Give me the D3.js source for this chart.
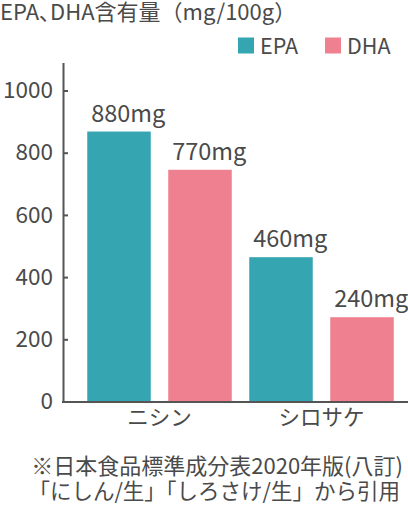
<!DOCTYPE html>
<html><head><meta charset="utf-8">
<script src="https://cdn.jsdelivr.net/npm/d3@7"></script>
<style>
html,body{margin:0;padding:0;background:#fff;}
svg{display:block;}
text{font-family:"Noto Sans CJK JP","Noto Sans",sans-serif;fill:#4a4a4a;}
.palt{font-feature-settings:"palt";}
</style></head>
<body>
<script>
const categories = ["ニシン", "シロサケ"];
const seriesNames = ["EPA", "DHA"];
const epaValues = [868, 464];
const dhaValues = [745, 271];
const epaLabels = ["880mg", "460mg"];
const dhaLabels = ["770mg", "240mg"];
const yTicks = [0, 200, 400, 600, 800, 1000];
const colors = ["#36a5b2", "#ef8090"];
const titleMain = "EPA、DHA含有量";
const titleUnit = "（mg/100g）";
const noteLines = ["※日本食品標準成分表2020年版(八訂)", "「にしん/生」「しろさけ/生」から引用"];

const W = 408, H = 510;
const svg = d3.select("body").append("svg").attr("width", W).attr("height", H);

const data = categories.map((c, i) => ({
  cat: c,
  vals: [
    {s: "EPA", v: epaValues[i], label: epaLabels[i]},
    {s: "DHA", v: dhaValues[i], label: dhaLabels[i]}
  ]
}));

const y = d3.scaleLinear().domain([0, 1090]).range([401.5, 62.5]);
const x0 = d3.scaleBand().domain(categories).range([78.5, 402.5]).paddingInner(0).paddingOuter(0);
const x1 = d3.scaleBand().domain(seriesNames).range([0, x0.bandwidth()]).paddingInner(0.216).paddingOuter(0.108);
const color = d3.scaleOrdinal().domain(seriesNames).range(colors);

// title
const t = svg.append("text").attr("x", 0).attr("y", 20).attr("font-size", 22);
t.append("tspan").attr("class", "palt").text(titleMain);
t.append("tspan").text(titleUnit);

// legend
const leg = svg.append("g");
const legX = [238, 325];
seriesNames.forEach((s, i) => {
  leg.append("rect").attr("x", legX[i]).attr("y", 37.5).attr("width", 16).attr("height", 16).attr("fill", color(s));
  leg.append("text").attr("x", legX[i] + 22).attr("y", 54).attr("font-size", 21.5).text(s);
});

// bars
const g = svg.append("g");
const groups = g.selectAll("g.grp").data(data).join("g").attr("class", "grp")
  .attr("transform", d => `translate(${x0(d.cat)},0)`);
groups.selectAll("rect").data(d => d.vals).join("rect")
  .attr("x", d => x1(d.s))
  .attr("y", d => y(d.v))
  .attr("width", x1.bandwidth())
  .attr("height", d => y(0) - y(d.v))
  .attr("fill", d => color(d.s));
groups.selectAll("text.val").data(d => d.vals).join("text").attr("class", "val")
  .attr("x", d => x1(d.s) + 4)
  .attr("y", d => y(d.v) - 10)
  .attr("font-size", 23.5)
  .text(d => d.label);

// y axis
const yAxis = d3.axisLeft(y).tickValues(yTicks).tickFormat(d3.format("d"))
  .tickSizeInner(-5).tickSizeOuter(0).tickPadding(10);
const ya = svg.append("g").attr("transform", "translate(63,0)").call(yAxis);
ya.select(".domain").attr("stroke", "#555").attr("stroke-width", 2);
ya.selectAll(".tick line").attr("stroke", "#555").attr("stroke-width", 2);
ya.selectAll(".tick text").attr("font-size", 22.5).attr("font-family", "'Noto Sans CJK JP',sans-serif").attr("fill", "#4a4a4a");

// x axis
const xAxis = d3.axisBottom(x0).tickSize(0).tickPadding(0);
const xa = svg.append("g").attr("transform", `translate(0,${y(0)})`).call(xAxis);
xa.select(".domain").attr("d", `M62,0.5H408`).attr("stroke", "#555").attr("stroke-width", 2);
xa.selectAll(".tick text").attr("dy", null).attr("y", 23.5)
  .attr("font-size", 21.5).attr("font-family", "'Noto Sans CJK JP',sans-serif").attr("fill", "#4a4a4a");

// footnote
svg.append("g").selectAll("text").data(noteLines).join("text")
  .attr("x", (d, i) => i === 0 ? 403 : 400).attr("y", (d, i) => 474 + i * 25)
  .attr("text-anchor", "end").attr("font-size", (d, i) => i === 0 ? 22 : 21.5).text(d => d);
</script>
</body></html>
